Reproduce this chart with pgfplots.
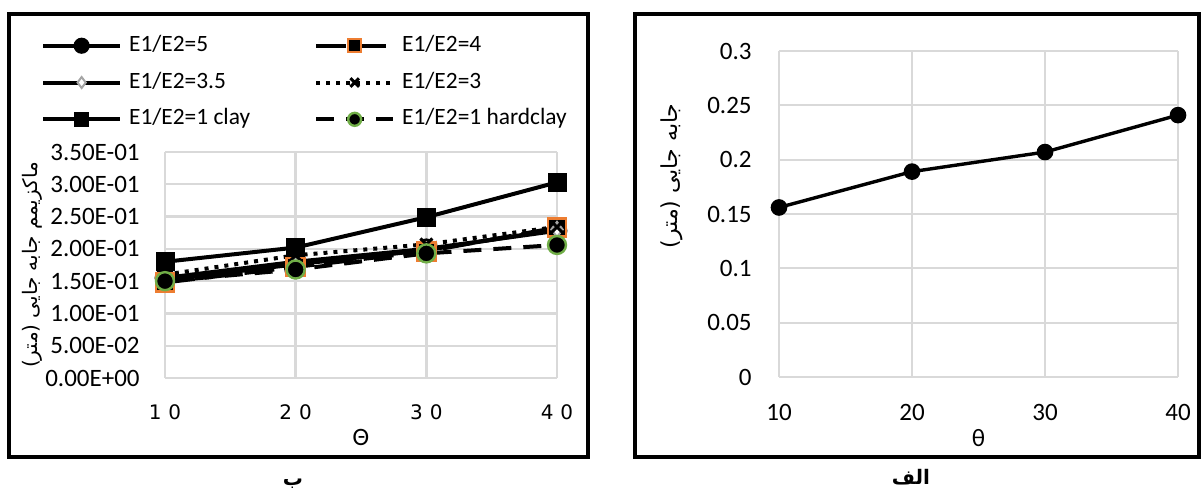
\documentclass[border=0pt]{standalone}
\usepackage{pgfplots}
\pgfplotsset{compat=1.18}
\usepackage{pgfplotstable}
\usepackage{fontspec}
\setmainfont{Carlito}
\newfontfamily\arabicfont[Script=Arabic]{DejaVu Sans}
\newfontfamily\dejavu{DejaVu Sans}
\TeXXeTstate=1
\definecolor{gridgray}{RGB}{217,217,217}
\definecolor{xlorange}{RGB}{237,125,49}
\definecolor{xlgreen}{RGB}{112,173,71}
\definecolor{xlgray}{RGB}{165,165,165}

\pgfplotstableread{
x s5 s4 s35 s3 clay hard
10 0.155 0.148 0.152 0.160 0.180 0.150
20 0.180 0.172 0.176 0.190 0.202 0.168
30 0.200 0.196 0.198 0.207 0.249 0.193
40 0.228 0.233 0.230 0.234 0.303 0.206
}\leftdata
\pgfplotstableread{
x y
10 0.156
20 0.189
30 0.207
40 0.241
}\rightdata

\begin{document}
\begin{tikzpicture}
\useasboundingbox (0,0) rectangle (601pt,245.5pt);
\draw[line width=2pt] (4.5pt,17pt) rectangle (293.75pt,238.5pt);
\draw[line width=2pt] (317.5pt,17pt) rectangle (599.5pt,238.5pt);

\begin{axis}[
 at={(82.5pt,56.5pt)}, anchor=south west,
 scale only axis, width=196pt, height=113pt,
 xmin=10, xmax=40, ymin=0, ymax=0.35,
 xtick={10,20,30,40},
 xticklabels={1\hspace{3.5pt}0,2\hspace{3.5pt}0,3\hspace{3.5pt}0,4\hspace{3.5pt}0},
 ytick={0,0.05,0.1,0.15,0.2,0.25,0.3,0.35},
 yticklabels={0.00E+00,5.00E-02,1.00E-01,1.50E-01,2.00E-01,2.50E-01,3.00E-01,3.50E-01},
 major tick length=0pt,
 grid=major,
 major grid style={gridgray, line width=1.2pt},
 axis line style={draw=none},
 clip=false,
 xticklabel style={font=\dejavu\fontsize{10}{12}\selectfont, anchor=center, yshift=-17pt},
 yticklabel style={font=\fontsize{12.5}{15}\selectfont, anchor=east, inner sep=0pt, xshift=-12.5pt},
 xlabel={Θ},
 xlabel style={font=\fontsize{12.5}{15}\selectfont, at={(axis description cs:0.5,-0.261)}, anchor=center},
 ylabel={\arabicfont\beginR ماکزیمم جابه جایی (متر)\endR},
 ylabel style={font=\fontsize{10}{12}\selectfont, at={(axis description cs:-0.339,0.5)}, anchor=center},
 legend columns=2,
 legend cell align=left,
 legend style={at={(axis description cs:-0.316,1.518)}, anchor=north west,
   draw=none, fill=none, inner sep=0pt, outer sep=0pt,
   font=\fontsize{11.7}{14}\selectfont,
   row sep=7.6pt,
   nodes={inner sep=0pt, text height=8.2pt, text depth=2.6pt},
   /tikz/every odd column/.append style={column sep=3.5pt},
   /tikz/every even column/.append style={column sep=32pt}},
 legend image code/.code={\draw[mark repeat=2,mark phase=2, every mark/.append style={scale=0.72}] plot coordinates {(0pt,0pt)(19.25pt,0pt)(38.5pt,0pt)};},
]
\addplot[black, line width=2pt, mark=*, mark size=4.2pt] table[x=x,y=s5]{\leftdata};
\addlegendentry{E1/E2=5}
\addplot[black, line width=2pt, dash pattern={on 15pt off 5pt}, mark=square*, mark size=4.5pt, mark options={solid, fill=black, draw=xlorange, line width=1.2pt}] table[x=x,y=s4]{\leftdata};
\addlegendentry{E1/E2=4}
\addplot[black, line width=2pt, mark=diamond*, mark size=3.8pt, mark options={fill=white, draw=xlgray, line width=1pt}] table[x=x,y=s35]{\leftdata};
\addlegendentry{E1/E2=3.5}
\addplot[black, line width=2pt, dash pattern={on 2pt off 3pt}, mark=x, mark size=4.2pt, mark options={solid, line width=1.5pt}] table[x=x,y=s3]{\leftdata};
\addlegendentry{E1/E2=3}
\addplot[black, line width=2pt, mark=square*, mark size=3.75pt] table[x=x,y=clay]{\leftdata};
\addlegendentry{E1/E2=1 clay}
\addplot[black, line width=2pt, dash pattern={on 9pt off 6pt}, mark=*, mark size=4.5pt, mark options={solid, fill=black, draw=xlgreen, line width=1.2pt}] table[x=x,y=hard]{\leftdata};
\addlegendentry{E1/E2=1 hardclay}
\end{axis}

\begin{axis}[
 at={(389.5pt,57pt)}, anchor=south west,
 scale only axis, width=199.5pt, height=163pt,
 xmin=10, xmax=40, ymin=0, ymax=0.3,
 xtick={10,20,30,40},
 xticklabels={10,20,30,40},
 ytick={0,0.05,0.1,0.15,0.2,0.25,0.3},
 yticklabels={0,0.05,0.1,0.15,0.2,0.25,0.3},
 major tick length=0pt,
 grid=major,
 major grid style={gridgray, line width=1pt},
 axis line style={draw=none},
 clip=false,
 xticklabel style={font=\fontsize{12.5}{15}\selectfont, anchor=center, yshift=-17.5pt},
 yticklabel style={font=\fontsize{12.5}{15}\selectfont, anchor=east, inner sep=0pt, xshift=-13.5pt},
 xlabel={θ},
 xlabel style={font=\fontsize{12.5}{15}\selectfont, at={(axis description cs:0.5,-0.187)}, anchor=center},
 ylabel={\arabicfont\beginR جابه جایی (متر)\endR},
 ylabel style={font=\fontsize{11}{13}\selectfont, at={(axis description cs:-0.268,0.617)}, anchor=center},
]
\addplot[black, line width=1.7pt, mark=*, mark size=3.3pt] table[x=x,y=y]{\rightdata};
\end{axis}

\node[font=\arabicfont\bfseries\fontsize{10}{12}\selectfont] at (146.5pt,3.5pt) {\beginR ب\endR};
\node[font=\arabicfont\bfseries\fontsize{10}{12}\selectfont] at (455.5pt,7pt) {\beginR الف\endR};
\end{tikzpicture}
\end{document}
